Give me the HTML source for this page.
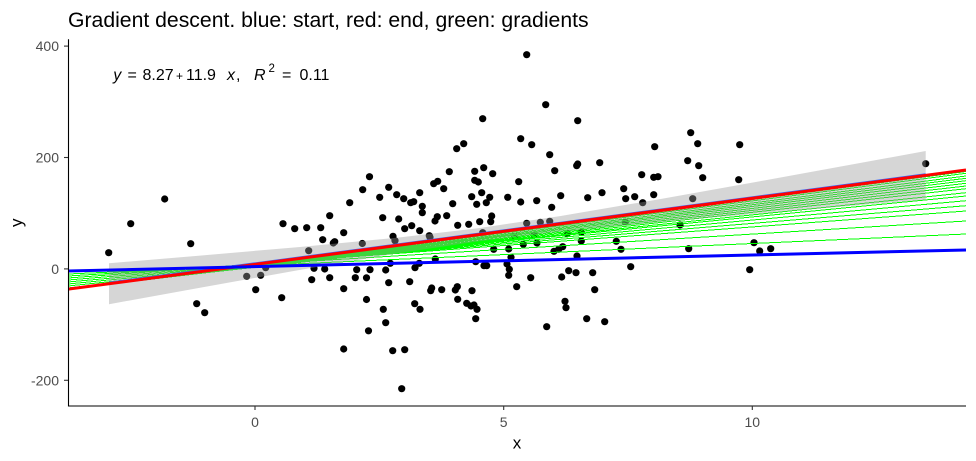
<!DOCTYPE html>
<html>
<head>
<meta charset="utf-8">
<style>
html,body{margin:0;padding:0;background:#fff;}
svg{display:block;}
text{font-family:"Liberation Sans",Arial,sans-serif;}
</style>
</head>
<body>
<svg width="976" height="461" viewBox="0 0 976 461" xmlns="http://www.w3.org/2000/svg">
<rect x="0" y="0" width="976" height="461" fill="#fff"/>
<defs>
<clipPath id="panel"><rect x="68" y="39" width="898" height="367"/></clipPath>
</defs>

<!-- title -->
<text x="68" y="27" font-size="21.2" fill="#000">Gradient descent. blue: start, red: end, green: gradients</text>

<!-- equation label -->
<g font-size="16" fill="#000">
<text x="113.3" y="80" font-style="italic">y</text>
<text x="127.5" y="80">=</text>
<text x="142.5" y="80">8.27</text>
<text x="176" y="80" font-size="12">+</text>
<text x="186" y="80">11.9</text>
<text x="227" y="80" font-style="italic">x</text>
<text x="236" y="80">,</text>
<text x="254" y="80" font-style="italic">R</text>
<text x="268.5" y="72" font-size="11.5">2</text>
<text x="282" y="80">=</text>
<text x="299.5" y="80">0.11</text>
</g>

<g clip-path="url(#panel)">
<!-- points -->
<g fill="#000">
<circle cx="164.7" cy="199" r="3.6"/><circle cx="130.7" cy="223.7" r="3.6"/><circle cx="108.7" cy="252.7" r="3.6"/><circle cx="190.7" cy="243.7" r="3.6"/><circle cx="196.7" cy="303.7" r="3.6"/><circle cx="204.7" cy="312.7" r="3.6"/><circle cx="246.7" cy="276.3" r="3.6"/><circle cx="255.7" cy="289.7" r="3.6"/><circle cx="260.7" cy="275.3" r="3.6"/><circle cx="265.7" cy="267.7" r="3.6"/><circle cx="281.7" cy="297.7" r="3.6"/><circle cx="283" cy="223.7" r="3.6"/><circle cx="294.7" cy="228.7" r="3.6"/><circle cx="306.7" cy="227.7" r="3.6"/><circle cx="320.7" cy="227.7" r="3.6"/><circle cx="329.7" cy="215.7" r="3.6"/><circle cx="322.7" cy="239.7" r="3.6"/><circle cx="334.7" cy="241.7" r="3.6"/><circle cx="333.3" cy="243" r="3.6"/><circle cx="343.7" cy="232.7" r="3.6"/><circle cx="349.7" cy="202.7" r="3.6"/><circle cx="362.7" cy="189.7" r="3.6"/><circle cx="308.7" cy="250.7" r="3.6"/><circle cx="314" cy="268.3" r="3.6"/><circle cx="324.7" cy="269" r="3.6"/><circle cx="311.7" cy="279.7" r="3.6"/><circle cx="329.7" cy="277.7" r="3.6"/><circle cx="343.7" cy="288.7" r="3.6"/><circle cx="343.7" cy="349" r="3.6"/><circle cx="356.7" cy="269.7" r="3.6"/><circle cx="355.3" cy="277.7" r="3.6"/><circle cx="366.5" cy="277.8" r="3.6"/><circle cx="366.5" cy="299.5" r="3.6"/><circle cx="368.5" cy="330.8" r="3.6"/><circle cx="362.3" cy="243.5" r="3.6"/>
<circle cx="526.7" cy="54.7" r="3.6"/><circle cx="545.7" cy="104.7" r="3.6"/><circle cx="482.7" cy="118.7" r="3.6"/><circle cx="577.7" cy="120.7" r="3.6"/><circle cx="520.7" cy="138.7" r="3.6"/><circle cx="531.7" cy="144.7" r="3.6"/><circle cx="456.7" cy="148.7" r="3.6"/><circle cx="463.7" cy="143.7" r="3.6"/><circle cx="549.7" cy="154.7" r="3.6"/><circle cx="654.7" cy="146.7" r="3.6"/><circle cx="577.7" cy="164" r="3.6"/><circle cx="576.7" cy="165.7" r="3.6"/><circle cx="599.7" cy="162.7" r="3.6"/><circle cx="483.7" cy="167.7" r="3.6"/><circle cx="474.7" cy="171.3" r="3.6"/><circle cx="492.7" cy="173.7" r="3.6"/><circle cx="449.3" cy="171.7" r="3.6"/><circle cx="554.7" cy="170.7" r="3.6"/><circle cx="369.5" cy="176.7" r="3.6"/><circle cx="388.7" cy="187.3" r="3.6"/><circle cx="396.7" cy="194.7" r="3.6"/><circle cx="379.7" cy="197.3" r="3.6"/><circle cx="403.7" cy="198.7" r="3.6"/><circle cx="419.7" cy="192.7" r="3.6"/><circle cx="410.7" cy="202.7" r="3.6"/><circle cx="413.7" cy="201.7" r="3.6"/><circle cx="422.3" cy="206.3" r="3.6"/><circle cx="422.3" cy="212.7" r="3.6"/><circle cx="433.7" cy="183.7" r="3.6"/><circle cx="437.7" cy="181.3" r="3.6"/><circle cx="443.7" cy="188.7" r="3.6"/><circle cx="474.7" cy="180.3" r="3.6"/><circle cx="478.3" cy="182" r="3.6"/><circle cx="518.7" cy="181.7" r="3.6"/><circle cx="481.7" cy="192.7" r="3.6"/><circle cx="471.7" cy="196.7" r="3.6"/><circle cx="489.7" cy="197.3" r="3.6"/><circle cx="486.3" cy="202.7" r="3.6"/><circle cx="476.7" cy="204.3" r="3.6"/><circle cx="452.7" cy="203.7" r="3.6"/><circle cx="507.7" cy="197.3" r="3.6"/><circle cx="520.7" cy="202" r="3.6"/><circle cx="536.7" cy="200.7" r="3.6"/><circle cx="551.7" cy="207.3" r="3.6"/><circle cx="560.7" cy="195.7" r="3.6"/><circle cx="587.7" cy="197.7" r="3.6"/><circle cx="602" cy="192.7" r="3.6"/><circle cx="623.7" cy="188.7" r="3.6"/><circle cx="625.7" cy="198.7" r="3.6"/><circle cx="634.7" cy="196.7" r="3.6"/><circle cx="641.7" cy="174.7" r="3.6"/><circle cx="653.7" cy="177.3" r="3.6"/><circle cx="658" cy="176.7" r="3.6"/><circle cx="653.7" cy="194.7" r="3.6"/><circle cx="642.7" cy="202.7" r="3.6"/><circle cx="382.7" cy="217.7" r="3.6"/><circle cx="398.7" cy="219" r="3.6"/><circle cx="437.3" cy="216.7" r="3.6"/><circle cx="435" cy="221" r="3.6"/><circle cx="446.7" cy="215.7" r="3.6"/><circle cx="491.7" cy="216" r="3.6"/><circle cx="490.7" cy="221.7" r="3.6"/><circle cx="479.7" cy="221.7" r="3.6"/><circle cx="468.7" cy="224.3" r="3.6"/><circle cx="457.7" cy="225.3" r="3.6"/><circle cx="404.7" cy="228.7" r="3.6"/><circle cx="411.7" cy="225.7" r="3.6"/><circle cx="419.7" cy="230.7" r="3.6"/><circle cx="429.3" cy="235.7" r="3.6"/><circle cx="430" cy="237.3" r="3.6"/><circle cx="393" cy="236.3" r="3.6"/><circle cx="395" cy="240.7" r="3.6"/><circle cx="526.7" cy="223.3" r="3.6"/><circle cx="540.3" cy="222.3" r="3.6"/><circle cx="549.7" cy="221.3" r="3.6"/><circle cx="482.7" cy="232.7" r="3.6"/><circle cx="493.7" cy="249.3" r="3.6"/><circle cx="508.7" cy="249" r="3.6"/><circle cx="523.3" cy="244.3" r="3.6"/><circle cx="537" cy="243" r="3.6"/><circle cx="514.7" cy="236" r="3.6"/><circle cx="534.3" cy="235" r="3.6"/><circle cx="567.3" cy="233.7" r="3.6"/><circle cx="581.3" cy="232.3" r="3.6"/><circle cx="581.3" cy="241" r="3.6"/><circle cx="554" cy="251.3" r="3.6"/><circle cx="558.7" cy="249.3" r="3.6"/><circle cx="562.7" cy="246.7" r="3.6"/><circle cx="616.3" cy="241.3" r="3.6"/><circle cx="621" cy="249.3" r="3.6"/><circle cx="625.3" cy="222" r="3.6"/><circle cx="435.3" cy="259" r="3.6"/><circle cx="390.3" cy="263.3" r="3.6"/><circle cx="419.3" cy="263.3" r="3.6"/><circle cx="415" cy="267.7" r="3.6"/><circle cx="475.7" cy="261.7" r="3.6"/><circle cx="484" cy="265.7" r="3.6"/><circle cx="486.7" cy="265.7" r="3.6"/><circle cx="507" cy="264" r="3.6"/><circle cx="509.3" cy="269.3" r="3.6"/><circle cx="508.7" cy="275.3" r="3.6"/><circle cx="511" cy="257.3" r="3.6"/><circle cx="577" cy="256" r="3.6"/><circle cx="370" cy="269.7" r="3.6"/><circle cx="385.7" cy="270" r="3.6"/><circle cx="388.7" cy="282.7" r="3.6"/><circle cx="409.7" cy="281.7" r="3.6"/><circle cx="430.7" cy="290.7" r="3.6"/><circle cx="431.7" cy="288" r="3.6"/><circle cx="441.7" cy="289.7" r="3.6"/><circle cx="457.3" cy="286.7" r="3.6"/><circle cx="455.3" cy="290" r="3.6"/><circle cx="472" cy="290.7" r="3.6"/><circle cx="516.7" cy="286.7" r="3.6"/><circle cx="530.7" cy="277.7" r="3.6"/><circle cx="561.7" cy="277" r="3.6"/><circle cx="568.7" cy="270.7" r="3.6"/><circle cx="576" cy="272.7" r="3.6"/><circle cx="592.7" cy="272.7" r="3.6"/><circle cx="594.7" cy="289.7" r="3.6"/><circle cx="630.7" cy="266.7" r="3.6"/><circle cx="383.3" cy="309.3" r="3.6"/><circle cx="414.7" cy="303.7" r="3.6"/><circle cx="420" cy="309.3" r="3.6"/><circle cx="457.7" cy="299.3" r="3.6"/><circle cx="466.7" cy="303.3" r="3.6"/><circle cx="471" cy="306" r="3.6"/><circle cx="474" cy="305" r="3.6"/><circle cx="477" cy="309.3" r="3.6"/><circle cx="475.7" cy="318.7" r="3.6"/><circle cx="565" cy="301.3" r="3.6"/><circle cx="566" cy="307.7" r="3.6"/><circle cx="385.7" cy="322.7" r="3.6"/><circle cx="586.7" cy="318.7" r="3.6"/><circle cx="604.7" cy="321.7" r="3.6"/><circle cx="546.7" cy="326.7" r="3.6"/><circle cx="392.7" cy="350.7" r="3.6"/><circle cx="404.7" cy="349.7" r="3.6"/><circle cx="401.7" cy="388.7" r="3.6"/>
<circle cx="690.7" cy="132.7" r="3.6"/><circle cx="697.7" cy="143.7" r="3.6"/><circle cx="739.7" cy="144.7" r="3.6"/><circle cx="687.7" cy="160.7" r="3.6"/><circle cx="698.7" cy="165.7" r="3.6"/><circle cx="702.7" cy="177.7" r="3.6"/><circle cx="738.7" cy="179.7" r="3.6"/><circle cx="692.7" cy="198.7" r="3.6"/><circle cx="925.7" cy="163.7" r="3.6"/><circle cx="680" cy="225" r="3.6"/><circle cx="688.7" cy="248.7" r="3.6"/><circle cx="754" cy="242.7" r="3.6"/><circle cx="759.7" cy="251" r="3.6"/><circle cx="770.7" cy="248.7" r="3.6"/><circle cx="749.7" cy="269.7" r="3.6"/>
</g>

<!-- green gradient lines -->
<g stroke="#00ff00" stroke-width="1" fill="none" shape-rendering="crispEdges">
<line x1="68" y1="274" x2="966" y2="234"/>
<line x1="68" y1="276" x2="966" y2="221"/>
<line x1="68" y1="278" x2="966" y2="211"/>
<line x1="68" y1="280" x2="966" y2="205.7"/>
<line x1="68" y1="282" x2="966" y2="200.7"/>
<line x1="68" y1="284" x2="966" y2="196"/>
<line x1="68" y1="286" x2="966" y2="192.7"/>
<line x1="68" y1="288" x2="966" y2="188.7"/>
<line x1="68" y1="288.5" x2="966" y2="186"/>
<line x1="68" y1="289" x2="966" y2="183.3"/>
<line x1="68" y1="289" x2="966" y2="180.7"/>
<line x1="68" y1="289.3" x2="966" y2="178.3"/>
<line x1="68" y1="289.3" x2="966" y2="176"/>
<line x1="68" y1="289.3" x2="966" y2="173.3"/>
<line x1="68" y1="289.2" x2="966" y2="171.5"/>
</g>

<!-- confidence ribbon -->
<polygon fill="#999999" fill-opacity="0.4" stroke="none"
 points="109,263.26 200,255.63 300,246.94 400,237.37 479,228.08 560,216.07 660,199.07 760,181.2 860,163.02 925.7,151 925.7,199.7 860,205.12 760,213.48 660,222.17 560,231.71 479,241.2 400,252.89 300,269.86 200,287.73 109,304.26"/>

<!-- smooth line -->
<line x1="109" y1="283.0" x2="925.7" y2="174.6" stroke="#3366ff" stroke-width="2.6"/>
<!-- red end line -->
<line x1="68" y1="289.2" x2="966" y2="170" stroke="#ff0000" stroke-width="3"/>
<!-- blue start line -->
<line x1="68" y1="271" x2="966" y2="250" stroke="#0000ff" stroke-width="3"/>
</g>

<!-- axes -->
<g stroke="#000" stroke-width="1.1" fill="none">
<line x1="68.5" y1="39.3" x2="68.5" y2="406.5"/>
<line x1="68" y1="406" x2="966" y2="406"/>
</g>
<g stroke="#333" stroke-width="1.1">
<line x1="64" y1="46.1" x2="68" y2="46.1"/>
<line x1="64" y1="157.5" x2="68" y2="157.5"/>
<line x1="64" y1="268.9" x2="68" y2="268.9"/>
<line x1="64" y1="380.3" x2="68" y2="380.3"/>
<line x1="255" y1="406" x2="255" y2="410"/>
<line x1="503.7" y1="406" x2="503.7" y2="410"/>
<line x1="752.3" y1="406" x2="752.3" y2="410"/>
</g>
<g font-size="14" fill="#4d4d4d">
<text x="59" y="51.1" text-anchor="end">400</text>
<text x="59" y="162.5" text-anchor="end">200</text>
<text x="59" y="273.9" text-anchor="end">0</text>
<text x="59" y="385.3" text-anchor="end">-200</text>
<text x="255" y="427" text-anchor="middle">0</text>
<text x="503.7" y="427" text-anchor="middle">5</text>
<text x="752.3" y="427" text-anchor="middle">10</text>
</g>
<text x="517" y="448.3" font-size="17" text-anchor="middle" fill="#000">x</text>
<text x="22" y="222.7" font-size="17" text-anchor="middle" fill="#000" transform="rotate(-90 22 222.7)">y</text>
</svg>
</body>
</html>
